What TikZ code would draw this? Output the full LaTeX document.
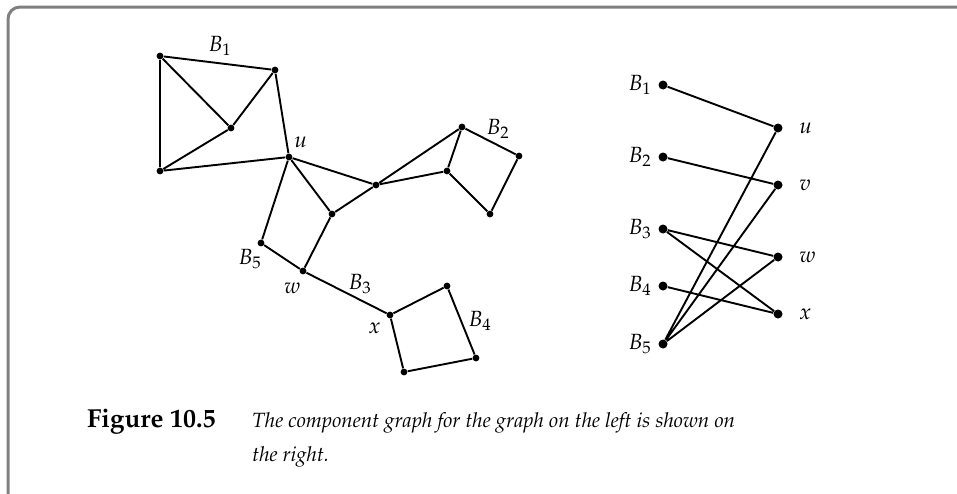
\documentclass[tikz,border=0pt]{standalone}
\usepackage[T1]{fontenc}
\usepackage{mathpazo}
\usetikzlibrary{positioning}
\tikzset{
  vtx/.style={circle, fill, inner sep=0pt, minimum size=3.4pt},
  bvtx/.style={circle, fill, inner sep=0pt, minimum size=4.5pt},
  edge/.style={line width=0.95pt},
  lbl/.style={font=\fontsize{11}{13}\selectfont, inner sep=0pt}
}

\begin{document}
\begin{tikzpicture}[x=0.5pt, y=-0.5pt]
  \useasboundingbox (0,0) rectangle (957,493);
  % frame, open to the right and below
  \draw[line width=1.5pt, gray, rounded corners=6pt] (8,500) -- (8,7) -- (965,7);
  % left graph: block B1
  \node[vtx] (a1) at (160,56) {};
  \node[vtx] (a2) at (275,70) {};
  \node[vtx] (a3) at (231,128) {};
  \node[vtx] (a4) at (160,171) {};
  \node[vtx, label={[lbl, label distance=3pt]60:$u$}] (u) at (289,157) {};
  % block B5 and the cut vertex v
  \node[vtx] (v) at (376,185) {};
  \node[vtx] (p) at (332,214) {};
  \node[vtx] (q) at (261,243) {};
  \node[vtx, label={[lbl, label distance=4pt]260:$w$}] (w) at (303,271) {};
  % block B2
  \node[vtx] (b2t) at (462,127) {};
  \node[vtx] (b2l) at (447,171) {};
  \node[vtx] (b2r) at (519,156) {};
  \node[vtx] (b2b) at (490,214) {};
  % block B4
  \node[vtx, label={[lbl, label distance=4pt]220:$x$}] (x) at (390,315) {};
  \node[vtx] (b4t) at (447,286) {};
  \node[vtx] (b4r) at (476,358) {};
  \node[vtx] (b4b) at (404,372) {};
  \draw[edge] (a1) -- (a2) (a1) -- (a3) (a1) -- (a4) (a2) -- (a3) (a3) -- (a4)
    (a2) -- (u) (a4) -- (u);
  \draw[edge] (u) -- (v) (u) -- (p) (p) -- (v) (u) -- (q) (q) -- (w) (w) -- (p);
  \draw[edge] (v) -- (b2t) (v) -- (b2l) (b2t) -- (b2l) (b2t) -- (b2r) (b2r) -- (b2b) (b2b) -- (b2l);
  \draw[edge] (w) -- (x) (x) -- (b4t) (b4t) -- (b4r) (b4r) -- (b4b) (b4b) -- (x);
  % block names
  \node[lbl] (nB1) at (220,46) {$B_1$};
  \node[lbl] (nB2) at (498,129) {$B_2$};
  \node[lbl] (nB3) at (360,284) {$B_3$};
  \node[lbl] (nB4) at (480,321) {$B_4$};
  \node[lbl] (nB5) at (250,259) {$B_5$};
  % component graph
  \foreach \i/\y in {1/85,2/157,3/229,4/286,5/344}
    \node[bvtx, label={[lbl, label distance=3pt]left:$B_\i$}] (cB\i) at (663,\y) {};
  \foreach \n/\y in {u/128,v/185,w/257,x/314}
    \node[bvtx, label={[lbl, label distance=8pt]right:$\n$}] (c\n) at (778,\y) {};
  \draw[edge] (cB1) -- (cu) (cB2) -- (cv) (cB3) -- (cw) (cB3) -- (cx) (cB4) -- (cx)
    (cB5) -- (cu) (cB5) -- (cv) (cB5) -- (cw);
  % caption
  \node[anchor=base east, inner sep=0pt, font=\fontsize{13}{17}\selectfont\bfseries] (fig) at (216,427) {Figure 10.5};
  \node[anchor=base west, inner sep=0pt, align=left, font=\fontsize{10.3}{17}\selectfont\itshape] (cap) at (252,461)
    {The component graph for the graph on the left is shown on\\the right.};
\end{tikzpicture}
\end{document}
